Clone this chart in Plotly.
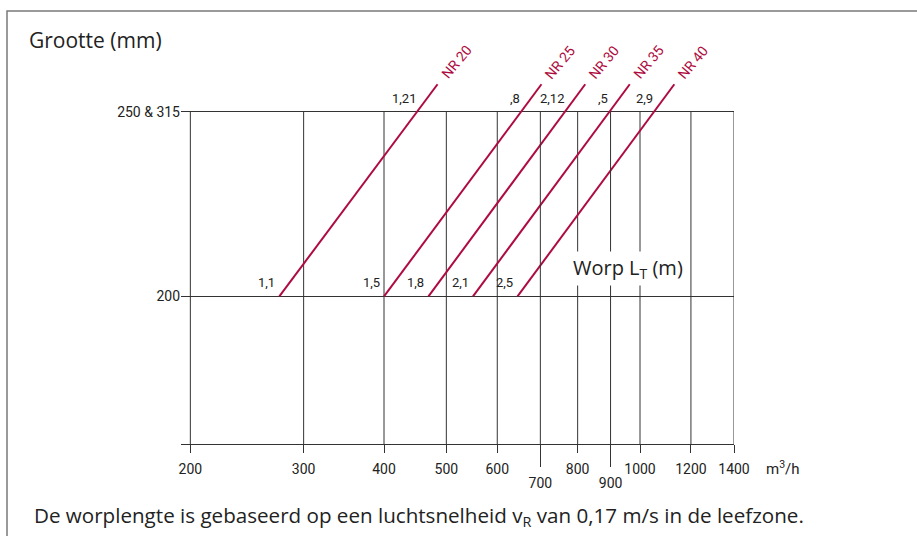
import math
import plotly.graph_objects as go

# Air flow (m3/h) where each NR curve crosses the 200 mm and the 250/315 mm size rows
nr_labels = ["NR 20", "NR 25", "NR 30", "NR 35", "NR 40"]
flow_at_200 = [275, 400, 469, 550, 645]
flow_at_250 = [450, 653, 764, 896, 1051]

# Throw length L_T (m) printed next to each curve
throw_200 = ["1,1", "1,5", "1,8", "2,1", "2,5"]
throw_250 = ["1,21", ",8", "2,12", ",5", "2,9"]

# Size rows (mm) and their labels
size_vals = [200, 250]
size_text = ["200", "250 & 315"]

# Air flow grid (m3/h)
flow_ticks = [200, 300, 400, 500, 600, 700, 800, 900, 1000, 1200, 1400]
flow_ticks_low = [700, 900]

W, H = 917, 536
ML, MR, MT, MB = 181, 183, 75, 92
PW, PH = W - ML - MR, H - MT - MB
Y_MIN, Y_MAX = 160, 260
X_HI = math.log10(1400)
X_LO = X_HI - PW / 643.3
Y_TOP = 257.5  # where the NR curves stop above the top row

RED = "#AE0B40"
GRID = "#333333"
TXT = "#222222"
SANS = "Open Sans"
NUM = "Roboto"


def px(x):
    return (x - ML) / PW


def py(y):
    return (MT + PH - y) / PH


fig = go.Figure()

# vertical grid lines between the axis and the top row
for v in flow_ticks:
    fig.add_trace(go.Scatter(
        x=[v, v], y=[Y_MIN, size_vals[-1]], mode="lines",
        line=dict(color=GRID, width=1), hoverinfo="skip", showlegend=False,
        xaxis="x2" if v in flow_ticks_low else "x",
    ))

# NR curves (straight in log-flow / size space), extended above the top row
k = (Y_TOP - 200) / 50
for f200, f250 in zip(flow_at_200, flow_at_250):
    f_top = f200 * (f250 / f200) ** k
    fig.add_trace(go.Scatter(
        x=[f200, f_top], y=[200, Y_TOP], mode="lines",
        line=dict(color=RED, width=2), hoverinfo="skip", showlegend=False,
    ))

ann = []
for name, f200, f250, t200, t250 in zip(nr_labels, flow_at_200, flow_at_250,
                                         throw_200, throw_250):
    f_top = f200 * (f250 / f200) ** k
    ann.append(dict(x=math.log10(f_top), y=Y_TOP, xref="x", yref="y", text=name,
                    showarrow=False, textangle=-50, xshift=19, yshift=22,
                    xanchor="center", yanchor="middle",
                    font=dict(family=NUM, size=14, color=RED)))
    ann.append(dict(x=math.log10(f200), y=200, xref="x", yref="y", text=t200,
                    showarrow=False, xanchor="right", yanchor="bottom",
                    xshift=-2, yshift=4, font=dict(family=NUM, size=13, color=TXT)))
    ann.append(dict(x=math.log10(f250), y=250, xref="x", yref="y", text=t250,
                    showarrow=False, xanchor="right", yanchor="bottom",
                    xshift=1, yshift=4, font=dict(family=NUM, size=13, color=TXT)))

ann += [
    dict(x=px(27), y=py(40), xref="paper", yref="paper", text="Grootte (mm)",
         showarrow=False, xanchor="left", yanchor="middle",
         font=dict(family=SANS, size=21, color=TXT)),
    dict(x=px(628), y=py(268), xref="paper", yref="paper",
         text="Worp L<sub>T</sub> (m)", showarrow=False, bgcolor="white",
         xanchor="center", yanchor="middle", borderpad=2,
         font=dict(family=SANS, size=20, color=TXT)),
    dict(x=px(764), y=py(468), xref="paper", yref="paper",
         text="m<sup>3</sup>/h", showarrow=False, xanchor="left", yanchor="middle",
         font=dict(family=NUM, size=15, color=TXT)),
    dict(x=px(32), y=py(516), xref="paper", yref="paper",
         text="De worplengte is gebaseerd op een luchtsnelheid v<sub>R</sub> "
              "van 0,17 m/s in de leefzone.",
         showarrow=False, xanchor="left", yanchor="middle",
         font=dict(family=SANS, size=20.6, color=TXT)),
]

fig.update_layout(
    width=W, height=H, margin=dict(l=ML, r=MR, t=MT, b=MB),
    paper_bgcolor="white", plot_bgcolor="white",
    xaxis=dict(type="log", range=[X_LO, X_HI], showgrid=False, zeroline=False,
               showline=True, linecolor=GRID, linewidth=1,
               ticks="outside", ticklen=8, tickcolor=GRID, tickwidth=1,
               ticklabelstandoff=4,
               tickvals=[v for v in flow_ticks if v not in flow_ticks_low],
               ticktext=[str(v) for v in flow_ticks if v not in flow_ticks_low],
               tickfont=dict(family=NUM, size=14, color=TXT)),
    xaxis2=dict(type="log", range=[X_LO, X_HI], overlaying="x", anchor="y",
                side="bottom", showgrid=False, zeroline=False, showline=False,
                ticks="outside", ticklen=22, tickcolor=GRID, tickwidth=1,
                ticklabelstandoff=4,
                tickvals=flow_ticks_low, ticktext=[str(v) for v in flow_ticks_low],
                tickfont=dict(family=NUM, size=14, color=TXT)),
    yaxis=dict(range=[Y_MIN, Y_MAX], showgrid=True, gridcolor=GRID, gridwidth=1,
               zeroline=False, showline=False, ticks="",
               tickvals=size_vals, ticktext=size_text,
               tickfont=dict(family=NUM, size=14, color=TXT)),
    annotations=ann,
    shapes=[dict(type="rect", xref="paper", yref="paper",
                 x0=px(7), x1=px(940), y0=py(560), y1=py(11),
                 line=dict(color="#7a7a7a", width=1.5), fillcolor="rgba(0,0,0,0)",
                 layer="below")],
)

fig.write_html("out.html")
